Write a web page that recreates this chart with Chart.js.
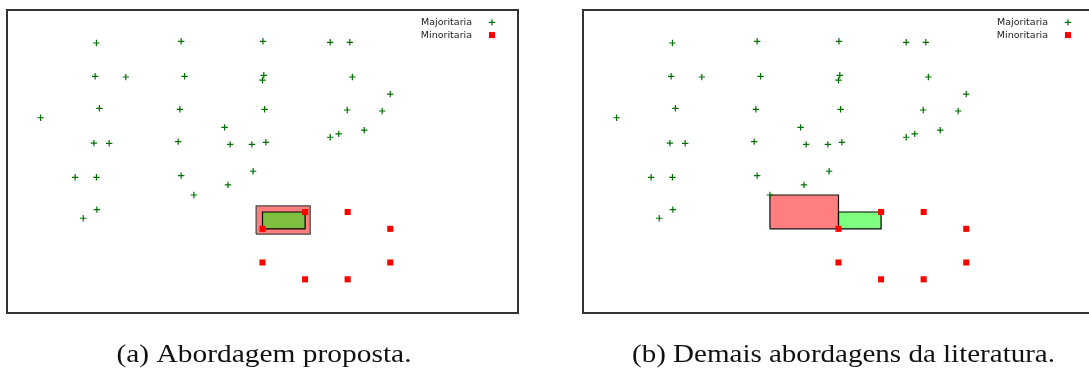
<!DOCTYPE html>
<html>
<head>
<meta charset="utf-8">
<script src="https://cdn.jsdelivr.net/npm/chart.js@4"></script>
<style>
  html, body { margin: 0; padding: 0; background: #fff; overflow: hidden; width: 1089px; height: 369px; }
  .panel { position: absolute; top: 0; height: 369px; }
  #wrap-a { left: 0; width: 545px; }
  #wrap-b { left: 545px; width: 560px; }
</style>
</head>
<body>
<div class="panel" id="wrap-a"><canvas id="chart-a"></canvas></div>
<div class="panel" id="wrap-b"><canvas id="chart-b"></canvas></div>
<script>
// majority class (green +)
const majX = [2.10, 4.09, 6.01, 7.59, 8.05, 2.07, 2.79, 4.17, 6.03, 6.00, 8.11, 9.00,
  2.17, 0.79, 4.06, 6.05, 7.99, 8.81, 5.11, 8.39, 7.79, 7.59, 2.04, 2.40,
  4.02, 5.24, 5.75, 6.08, 1.60, 2.10, 4.09, 5.78, 5.19, 4.39, 2.11, 1.79];
const majY = [16.04, 16.14, 16.14, 16.08, 16.08, 14.06, 14.02, 14.06, 14.12, 13.83, 14.02, 13.00,
  12.16, 11.60, 12.10, 12.10, 12.06, 12.00, 11.03, 10.86, 10.64, 10.44, 10.09, 10.08,
  10.18, 10.02, 10.02, 10.14, 8.06, 8.06, 8.16, 8.42, 7.61, 7.01, 6.14, 5.63];

// minority class (red squares)
const minX = [6, 7, 8, 9, 6, 9, 7, 8];
const minY = [5, 6, 6, 5, 3, 3, 2, 2];

// boxes: [min, max]
const greenBoxX = [6, 7];
const greenBoxY = [5, 6];
const redBoxAX = [5.85, 7.12];
const redBoxAY = [4.69, 6.36];
const redBoxBX = [4.39, 6];
const redBoxBY = [5, 7.01];

const legendLabels = ['Majoritaria', 'Minoritaria'];
const captionA = '(a) Abordagem proposta.';
const captionB = '(b) Demais abordagens da literatura.';

const GREEN = '#007000';
const RED = '#ff0000';

function toPoints(xs, ys) {
  return xs.map((x, i) => ({ x, y: ys[i] }));
}

function boxPoints(bx, by) {
  return [
    { x: bx[0], y: by[0] }, { x: bx[1], y: by[0] },
    { x: bx[1], y: by[1] }, { x: bx[0], y: by[1] },
    { x: bx[0], y: by[0] },
  ];
}

function boxDataset(bx, by, fill, border, order) {
  return {
    data: boxPoints(bx, by),
    showLine: true,
    fill: 'shape',
    backgroundColor: fill,
    borderColor: border,
    borderWidth: 1.2,
    pointRadius: 0,
    tension: 0,
    order,
  };
}

const majStyle = { pointStyle: 'cross', radius: 3.2, borderWidth: 1.2, rotation: 0 };
const minStyle = { pointStyle: 'rect', radius: 4.3, borderWidth: 0, rotation: 0 };

// frame around the plot area
const framePlugin = {
  id: 'frame',
  afterDraw(chart) {
    const { ctx, chartArea: a } = chart;
    ctx.save();
    ctx.strokeStyle = '#333';
    ctx.lineWidth = 2;
    ctx.strokeRect(a.left, a.top, a.right - a.left, a.bottom - a.top);
    ctx.restore();
  },
};

// gnuplot-like key: label, then marker on the right
const keyPlugin = {
  id: 'key',
  afterDraw(chart) {
    const { ctx, chartArea: a } = chart;
    const styles = [[majStyle, GREEN], [minStyle, RED]];
    ctx.save();
    legendLabels.forEach((label, i) => {
      const y = a.top + 12.4 + i * 12.7;
      ctx.font = '9.5px "DejaVu Sans"';
      ctx.fillStyle = '#222';
      ctx.textAlign = 'right';
      ctx.textBaseline = 'middle';
      ctx.fillText(label, a.right - 46, y);
      const [st, col] = styles[i];
      ctx.strokeStyle = col;
      ctx.fillStyle = col;
      ctx.lineWidth = st.borderWidth;
      Chart.helpers.drawPoint(ctx, st, a.right - 26, y);
    });
    ctx.restore();
  },
};

// subfigure caption under the plot
const captionPlugin = {
  id: 'caption',
  afterDraw(chart, args, opts) {
    if (!opts.text) return;
    const { ctx } = chart;
    ctx.save();
    ctx.font = '25px "Liberation Serif"';
    ctx.fillStyle = '#111';
    ctx.textAlign = 'center';
    ctx.textBaseline = 'alphabetic';
    const w = ctx.measureText(opts.text).width;
    const sx = opts.width / w;
    ctx.translate(opts.center, 362);
    ctx.scale(sx, 1);
    ctx.fillText(opts.text, 0, 0);
    ctx.restore();
  },
};

function makeChart(id, redBoxX, redBoxY, redBorder, padding, caption) {
  return new Chart(document.getElementById(id), {
    type: 'scatter',
    data: {
      datasets: [
        {
          label: legendLabels[0],
          data: toPoints(majX, majY),
          pointStyle: 'cross',
          pointRadius: majStyle.radius,
          pointBorderWidth: majStyle.borderWidth,
          borderColor: GREEN,
          backgroundColor: GREEN,
          order: 1,
        },
        {
          label: legendLabels[1],
          data: toPoints(minX, minY),
          pointStyle: 'rect',
          pointRadius: minStyle.radius,
          pointBorderWidth: 0,
          borderColor: RED,
          backgroundColor: RED,
          order: 0,
        },
        boxDataset(greenBoxX, greenBoxY, 'rgba(0,255,0,0.5)', '#000', 2),
        boxDataset(redBoxX, redBoxY, 'rgba(255,0,0,0.5)', redBorder, 3),
      ],
    },
    options: {
      responsive: true,
      maintainAspectRatio: false,
      animation: false,
      layout: { padding },
      plugins: {
        legend: { display: false },
        tooltip: { enabled: false },
        caption,
      },
      scales: {
        x: { type: 'linear', min: 0, max: 12, display: false },
        y: { type: 'linear', min: 0, max: 18, display: false },
      },
    },
    plugins: [framePlugin, keyPlugin, captionPlugin],
  });
}

makeChart('chart-a', redBoxAX, redBoxAY, '#444',
  { left: 7, right: 27, top: 10, bottom: 56 },
  { text: captionA, center: 264, width: 295 });
makeChart('chart-b', redBoxBX, redBoxBY, '#111',
  { left: 38, right: 11, top: 10, bottom: 56 },
  { text: captionB, center: 298.5, width: 423 });
</script>
</body>
</html>
